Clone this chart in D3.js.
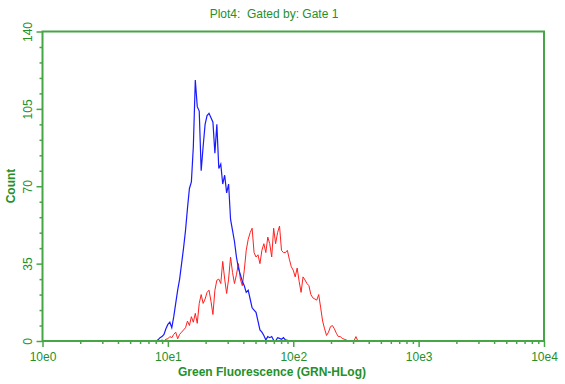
<!DOCTYPE html>
<html>
<head>
<meta charset="utf-8">
<script src="https://cdn.jsdelivr.net/npm/d3@7"></script>
<style>
  body { margin: 0; background: #fff; }
  svg { display: block; }
  text { font-family: "Liberation Sans", Arial, sans-serif; fill: #24902a; }
</style>
</head>
<body>
<svg id="chart" width="565" height="384"></svg>
<script>

// histogram channels, 256 channels over 4 decades
var channelsPerDecade = 64;

var blueFirstChannel = 58;
var blueCounts = [
	0, 0.5, 1.5, 2, 3, 5.5, 7.5, 8.5, 6, 11,
	17, 23, 28, 35, 42, 50, 60, 69, 72, 88,
	118, 106, 104, 77, 88, 98, 102, 103, 101, 99,
	85, 98, 78, 80, 71, 75, 67, 71, 55, 50,
	45, 38, 33, 30, 27, 25, 22, 23, 19, 15,
	14, 13, 9, 5, 4, 2.5, 0.5, 2, 1.5, 2,
	0.3, 0, 1.5, 1.2, 0.8, 1.5, 0.5, 0.3, 0
];

var redFirstChannel = 60;
var redCounts = [
	0, 0.5, 0, 0.8, 1, 2, 1.5, 3, 4, 1,
	3, 4, 5, 6, 9, 7, 11, 8.5, 12.5, 8,
	17, 21, 17, 19, 22, 23, 18, 12, 23, 27.5,
	28, 26, 36, 28, 21.5, 28, 38, 31, 26, 30,
	35, 28, 25, 32, 41, 46, 49, 51, 40, 38,
	39, 35, 41, 44, 40, 47, 44, 38, 51, 44,
	49, 52, 41, 40, 40, 41, 37, 33.6, 32, 29,
	33, 27, 22, 29, 27.6, 26, 25, 21, 19.5, 19,
	18.5, 21, 15, 9, 5.5, 2.5, 4, 6.5, 7, 5.5,
	3.5, 2, 2, 1.2, 0.8, 0.5, 0, 0, 0, 0,
	2, 0
];

var xTickValues = [1, 10, 100, 1000, 10000];
var xTickLabels = ['10e0', '10e1', '10e2', '10e3', '10e4'];
var yTickValues = [0, 35, 70, 105, 140];

var titleText = 'Plot4:  Gated by: Gate 1';
var xTitle = 'Green Fluorescence (GRN-HLog)';
var yTitle = 'Count';


var axisColor = '#46a646';
var plot = {left: 42.5, right: 544, top: 31.5, bottom: 341};

var svg = d3.select('#chart');

var x = d3.scaleLog().domain([1, 10000]).range([plot.left, plot.right]);
var y = d3.scaleLinear().domain([0, 140]).range([plot.bottom, plot.top]);

function channelToValue(ch) {
	return Math.pow(10, ch / channelsPerDecade);
}

function toPoints(first, counts) {
	return counts.map(function(c, i) {
		return {v: channelToValue(first + i), c: c};
	});
}

var line = d3.line()
	.x(function(d) { return x(d.v); })
	.y(function(d) { return y(d.c); });

// traces (drawn before the frame so the axis sits on top)
svg.append('path')
	.datum(toPoints(redFirstChannel, redCounts))
	.attr('d', line)
	.attr('fill', 'none')
	.attr('stroke', '#ff2020')
	.attr('stroke-width', 1);

svg.append('path')
	.datum(toPoints(blueFirstChannel, blueCounts))
	.attr('d', line)
	.attr('fill', 'none')
	.attr('stroke', '#1a1aff')
	.attr('stroke-width', 1.2);

// frame
svg.append('rect')
	.attr('x', plot.left)
	.attr('y', plot.top)
	.attr('width', plot.right - plot.left)
	.attr('height', plot.bottom - plot.top)
	.attr('fill', 'none')
	.attr('stroke', axisColor)
	.attr('stroke-width', 2);

// x axis ticks, major + minor
var xMinor = [];
for (var dec = 0; dec < 4; dec++) {
	for (var m = 2; m <= 9; m++) {
		xMinor.push(m * Math.pow(10, dec));
	}
}

var xAxis = d3.axisBottom(x)
	.tickValues(xMinor)
	.tickSize(3)
	.tickFormat('');

var gx = svg.append('g')
	.attr('transform', 'translate(0,' + plot.bottom + ')')
	.call(xAxis);

var gxMajor = svg.append('g')
	.attr('transform', 'translate(0,' + plot.bottom + ')')
	.call(d3.axisBottom(x)
		.tickValues(xTickValues)
		.tickSize(6)
		.tickFormat(function(d, i) { return xTickLabels[i]; }));

// y axis
var yMinor = d3.range(0, 141, 7).filter(function(v) { return v % 35 !== 0; });

var gy = svg.append('g')
	.attr('transform', 'translate(' + plot.left + ',0)')
	.call(d3.axisLeft(y).tickValues(yMinor).tickSize(3).tickFormat(''));

var gyMajor = svg.append('g')
	.attr('transform', 'translate(' + plot.left + ',0)')
	.call(d3.axisLeft(y).tickValues(yTickValues).tickSize(6).tickFormat(d3.format('d')));

[gx, gxMajor, gy, gyMajor].forEach(function(g) {
	g.select('.domain').remove();
	g.selectAll('.tick line').attr('stroke', axisColor).attr('stroke-width', 1.5);
});

gxMajor.selectAll('.tick text')
	.attr('y', 11)
	.attr('dy', '0.71em')
	.style('font-size', '12px');

// rotated y labels
gyMajor.selectAll('.tick text')
	.attr('x', null)
	.attr('dy', null)
	.attr('text-anchor', 'middle')
	.attr('transform', 'translate(-11,0) rotate(-90)')
	.style('font-size', '12px');

// titles
svg.append('text')
	.attr('x', 274)
	.attr('y', 18)
	.attr('text-anchor', 'middle')
	.style('font-size', '12px')
	.style('white-space', 'pre')
	.text(titleText);

svg.append('text')
	.attr('x', 272)
	.attr('y', 376)
	.attr('text-anchor', 'middle')
	.style('font-size', '12px')
	.style('font-weight', 'bold')
	.text(xTitle);

svg.append('text')
	.attr('transform', 'translate(15,186) rotate(-90)')
	.attr('text-anchor', 'middle')
	.style('font-size', '12px')
	.style('font-weight', 'bold')
	.text(yTitle);

</script>
</body>
</html>
